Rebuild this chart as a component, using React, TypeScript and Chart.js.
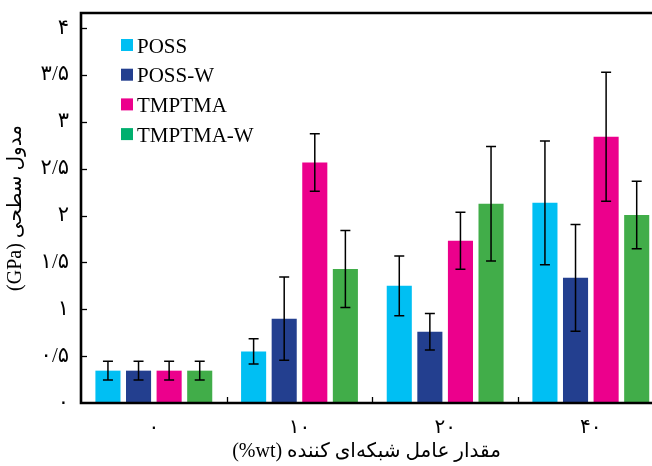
import React, { useEffect, useRef } from "react";
import { Chart, registerables } from "chart.js";

Chart.register(...registerables);

// ---- data ----
const categories = ["۰", "۱۰", "۲۰", "۴۰"];
const seriesNames = ["POSS", "POSS-W", "TMPTMA", "TMPTMA-W"];
const possValues = [0.345, 0.55, 1.25, 2.135];
const possErrors = [0.1, 0.135, 0.318, 0.66];
const possWValues = [0.345, 0.9, 0.76, 1.335];
const possWErrors = [0.1, 0.445, 0.194, 0.57];
const tmptmaValues = [0.345, 2.565, 1.73, 2.84];
const tmptmaErrors = [0.1, 0.306, 0.304, 0.687];
const tmptmaWValues = [0.345, 1.43, 2.125, 2.005];
const tmptmaWErrors = [0.1, 0.41, 0.61, 0.36];
const yTickLabels: Record<string, string> = {
  "0": "۰",
  "0.5": "۰/۵",
  "1": "۱",
  "1.5": "۱/۵",
  "2": "۲",
  "2.5": "۲/۵",
  "3": "۳",
  "3.5": "۳/۵",
  "4": "۴",
};
const yTitle = "(GPa) مدول سطحی";
const xTitle = "(%wt) مقدار عامل شبکه‌ای کننده";

const barColors = ["#00BFF3", "#233F8F", "#EC008C", "#41AD49"];
const legendColors = ["#00BFF3", "#233F8F", "#EC008C", "#00AF6E"];
const FONT = '"Liberation Serif", "DejaVu Sans", serif';

const allValues = [possValues, possWValues, tmptmaValues, tmptmaWValues];
const allErrors = [possErrors, possWErrors, tmptmaErrors, tmptmaWErrors];

const framePlugin = {
  id: "frame",
  afterDatasetsDraw(chart: any) {
    const { ctx, chartArea, scales } = chart;
    const x = scales.x;
    const y = scales.y;
    ctx.save();
    // error bars
    ctx.strokeStyle = "#000";
    ctx.lineWidth = 1.5;
    chart.data.datasets.forEach((ds: any, di: number) => {
      const meta = chart.getDatasetMeta(di);
      meta.data.forEach((bar: any, i: number) => {
        const v = allValues[di][i];
        const e = allErrors[di][i];
        const cx = bar.x;
        const yt = y.getPixelForValue(v + e);
        const yb = y.getPixelForValue(v - e);
        ctx.beginPath();
        ctx.moveTo(cx, yt);
        ctx.lineTo(cx, yb);
        ctx.moveTo(cx - 5, yt);
        ctx.lineTo(cx + 5, yt);
        ctx.moveTo(cx - 5, yb);
        ctx.lineTo(cx + 5, yb);
        ctx.stroke();
      });
    });
    // y ticks inside
    ctx.lineWidth = 1.3;
    for (let t = 0.5; t <= 4; t += 0.5) {
      const py = Math.round(y.getPixelForValue(t)) + 0.5;
      ctx.beginPath();
      ctx.moveTo(chartArea.left, py);
      ctx.lineTo(chartArea.left + 6, py);
      ctx.stroke();
    }
    // x ticks at category boundaries
    for (let i = 0; i < categories.length; i++) {
      const px = Math.round(x.getPixelForValue(i + 0.5)) + 0.5;
      ctx.beginPath();
      ctx.moveTo(px, chartArea.bottom);
      ctx.lineTo(px, chartArea.bottom - 6);
      ctx.stroke();
    }
    // frame lines
    ctx.lineWidth = 2.6;
    ctx.beginPath();
    ctx.moveTo(chartArea.left, chartArea.top);
    ctx.lineTo(chart.width, chartArea.top);
    ctx.moveTo(chartArea.left, chartArea.top - 1.3);
    ctx.lineTo(chartArea.left, chartArea.bottom + 1.3);
    ctx.moveTo(chartArea.left, chartArea.bottom);
    ctx.lineTo(chart.width, chartArea.bottom);
    ctx.stroke();
    // legend
    ctx.font = `21px ${FONT}`;
    ctx.textBaseline = "alphabetic";
    ctx.textAlign = "left";
    chart.data.datasets.forEach((ds: any, di: number) => {
      const cy = chartArea.top + 32 + di * 29.7;
      ctx.fillStyle = legendColors[di];
      ctx.fillRect(chartArea.left + 40, cy - 6, 12, 12);
      ctx.fillStyle = "#000";
      ctx.fillText(ds.label, chartArea.left + 56, cy + 7.5);
    });
    ctx.restore();
  },
};

export default function App() {
  const ref = useRef<HTMLCanvasElement | null>(null);
  useEffect(() => {
    document.body.style.margin = "0";
    if (!ref.current) return;
    const chart = new Chart(ref.current, {
      type: "bar",
      data: {
        datasets: seriesNames.map((name, di) => ({
          label: name,
          data: allValues[di].map((v, i) => ({ x: i, y: v })),
          backgroundColor: barColors[di],
          borderWidth: 0,
          categoryPercentage: 0.84,
          barPercentage: 0.82,
          clip: false as any,
        })),
      },
      options: {
        animation: false,
        responsive: false,
        devicePixelRatio: 1,
        layout: { padding: { top: 13, right: 0, left: 0, bottom: 0 } },
        plugins: {
          legend: { display: false },
          tooltip: { enabled: false },
        },
        scales: {
          x: {
            type: "linear",
            offset: false,
            min: -0.5,
            max: 3.42,
            afterBuildTicks: (scale: any) => {
              scale.ticks = categories.map((_, i) => ({ value: i }));
            },
            afterFit: (scale: any) => {
              scale.height = 63;
              scale.paddingLeft = 0;
              scale.paddingRight = 0;
            },
            grid: { display: false, drawTicks: false, offset: false },
            border: { display: false },
            ticks: {
              autoSkip: false,
              maxRotation: 0,
              padding: 13,
              color: "#000",
              font: { family: FONT, size: 20 },
              callback: (v: any) => categories[v as number] ?? "",
            },
            title: {
              display: true,
              text: xTitle,
              color: "#000",
              font: { family: FONT, size: 20 },
              padding: { top: 0, bottom: 2 },
            },
          },
          y: {
            type: "linear",
            min: 0,
            max: 4.16,
            afterBuildTicks: (scale: any) => {
              const t = [];
              for (let v = 0; v <= 4; v += 0.5) t.push({ value: v });
              scale.ticks = t;
            },
            afterFit: (scale: any) => {
              scale.width = 81;
              scale.paddingTop = 0;
              scale.paddingBottom = 0;
            },
            grid: { display: false, drawTicks: false },
            border: { display: false },
            ticks: {
              padding: 12,
              color: "#000",
              font: { family: FONT, size: 21 },
              callback: (v: any) => yTickLabels[String(v)] ?? "",
            },
            title: {
              display: true,
              text: yTitle,
              color: "#000",
              font: { family: FONT, size: 20 },
              padding: { top: 4, bottom: 0 },
            },
          },
        },
      },
      plugins: [framePlugin],
    } as any);
    return () => chart.destroy();
  }, []);
  return (
    <div style={{ width: 652, height: 466 }}>
      <canvas ref={ref} width={652} height={466} style={{ display: "block" }} />
    </div>
  );
}
